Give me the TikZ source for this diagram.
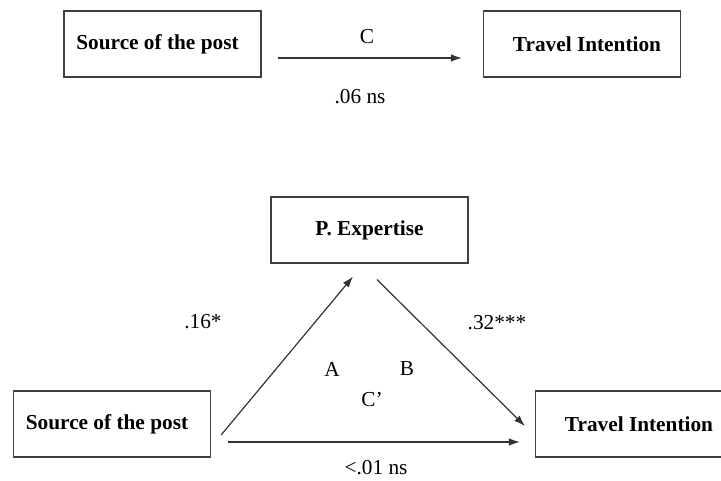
\documentclass[tikz,border=0pt]{standalone}
\usepackage{fontspec}
\setmainfont{Liberation Serif}
\usetikzlibrary{arrows.meta,calc}
\begin{document}
\begin{tikzpicture}[x=1pt,y=-1pt,
  box/.style={draw=black!75,line width=1.2pt,minimum width=197pt,minimum height=66pt,inner sep=0pt,
    font=\fontsize{21.3}{25}\selectfont\bfseries},
  lbl/.style={inner sep=0pt,font=\fontsize{21.3}{25}\selectfont},
  conn/.style={draw=black!80,line width=1.2pt,-{Latex[length=11pt,width=7.5pt]}}]
\useasboundingbox (0,0) rectangle (721,481);
% top model
\node[box] (s1) at (162.5,44) {\hspace*{-10pt}Source of the post};
\node[box] (t1) at (582,44) {\hspace*{10pt}Travel Intention};
\draw[conn] ($(s1.east)+(16,14)$) -- ($(t1.west)+(-21,14)$);
\node[lbl] (c) at (367,37) {C};
\node[lbl] (c06) at (360,97) {.06 ns};
% mediation model
\node[box] (pe) at (369.5,230) {P. Expertise};
\node[box] (s2) at (112,424) {\hspace*{-10pt}Source of the post};
\node[box] (t2) at (634,424) {\hspace*{10pt}Travel Intention};
\draw[conn] ($(s2.east)+(10,11)$) -- ($(pe.south)+(-16.5,13)$);
\draw[conn] ($(pe.south)+(7.5,16)$) -- ($(t2.west)+(-10,2)$);
\draw[conn] ($(s2.east)+(17,18)$) -- ($(t2.west)+(-15,18)$);
\node[lbl] (a16) at (203,322) {.16*};
\node[lbl] (b32) at (497,323) {.32***};
\node[lbl] (la) at (332,369) {A};
\node[lbl] (lb) at (407,369) {B};
\node[lbl] (lc) at (372,400) {C’};
\node[lbl] (c01) at (376,468) {<.01 ns};
\end{tikzpicture}
\end{document}
